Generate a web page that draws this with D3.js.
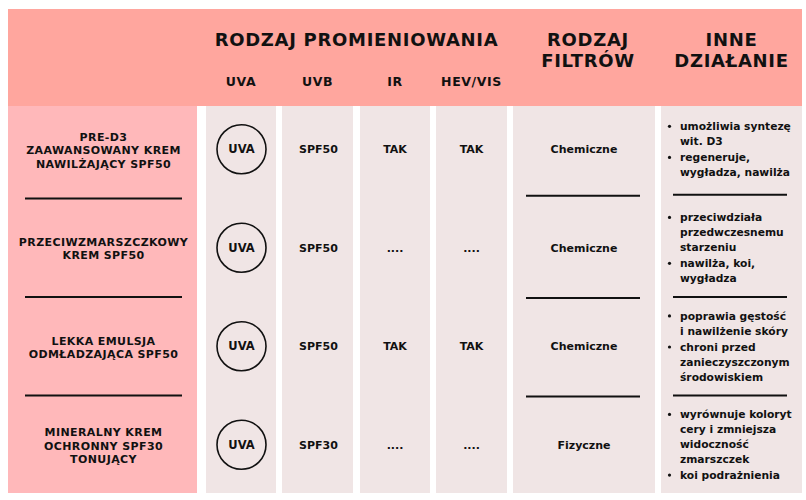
<!DOCTYPE html>
<html>
<head>
<meta charset="utf-8">
<script src="https://cdn.jsdelivr.net/npm/d3@7"></script>
<style>
  body { margin: 0; background: #fff; }
  svg text { font-family: "DejaVu Sans", sans-serif; font-weight: bold; fill: #111; }
</style>
</head>
<body>
<div class="canvas"></div>
<script>
// data
const products = [
  ['PRE-D3', 'ZAAWANSOWANY KREM', 'NAWILŻAJĄCY SPF50'],
  ['PRZECIWZMARSZCZKOWY', 'KREM SPF50'],
  ['LEKKA EMULSJA', 'ODMŁADZAJĄCA SPF50'],
  ['MINERALNY KREM', 'OCHRONNY SPF30', 'TONUJĄCY']
];
const radiation = ['UVA', 'UVB', 'IR', 'HEV/VIS'];
const uva = ['UVA', 'UVA', 'UVA', 'UVA'];
const uvb = ['SPF50', 'SPF50', 'SPF50', 'SPF30'];
const ir = ['TAK', '....', 'TAK', '....'];
const hev = ['TAK', '....', 'TAK', '....'];
const filters = ['Chemiczne', 'Chemiczne', 'Chemiczne', 'Fizyczne'];
const effects = [
  [['umożliwia syntezę', 'wit. D3'], ['regeneruje,', 'wygładza, nawilża']],
  [['przeciwdziała', 'przedwczesnemu', 'starzeniu'], ['nawilża, koi,', 'wygładza']],
  [['poprawia gęstość', 'i nawilżenie skóry'], ['chroni przed', 'zanieczyszczonym', 'środowiskiem']],
  [['wyrównuje koloryt', 'cery i zmniejsza', 'widoczność', 'zmarszczek'], ['koi podrażnienia']]
];

const dims = {width: 806, height: 500};
const svg = d3.select('.canvas')
  .append('svg')
  .attr('width', dims.width)
  .attr('height', dims.height);

// columns (x0, x1)
const cols = {
  name: [8, 197],
  uva: [206, 276],
  uvb: [282, 353],
  ir: [360, 430],
  hev: [436, 507],
  filt: [513, 655],
  inne: [661, 802]
};
const cx = c => (cols[c][0] + cols[c][1]) / 2;

const topY = 106, bottomY = 493;
const y = d3.scaleBand()
  .domain(d3.range(products.length))
  .range([101, 495]);
const rowC = i => y(i) + y.bandwidth() / 2;

// header band
svg.append('rect')
  .attr('x', 8).attr('y', 9).attr('width', 794).attr('height', topY - 9)
  .attr('fill', '#ffa69e');

// body columns
svg.append('rect')
  .attr('x', cols.name[0]).attr('y', topY)
  .attr('width', cols.name[1] - cols.name[0]).attr('height', bottomY - topY)
  .attr('fill', '#ffb8ba');

svg.selectAll('rect.cell')
  .data(['uva', 'uvb', 'ir', 'hev', 'filt', 'inne'])
  .enter().append('rect')
  .attr('class', 'cell')
  .attr('x', d => cols[d][0]).attr('y', topY)
  .attr('width', d => cols[d][1] - cols[d][0]).attr('height', bottomY - topY)
  .attr('fill', '#f0e5e5');

// header texts
const head = svg.append('g');
head.append('text')
  .attr('x', (cols.uva[0] + cols.hev[1]) / 2).attr('y', 45.5)
  .attr('text-anchor', 'middle').attr('font-size', 18)
  .attr('letter-spacing', 0.7)
  .text('RODZAJ PROMIENIOWANIA');

const twoLine = (x, lines) => {
  lines.forEach((l, i) => {
    head.append('text')
      .attr('x', x).attr('y', 45.5 + i * 21.5)
      .attr('text-anchor', 'middle').attr('font-size', 18)
      .attr('letter-spacing', 0.7)
      .text(l);
  });
};
twoLine(cx('filt') + 4, ['RODZAJ', 'FILTRÓW']);
twoLine(cx('inne'), ['INNE', 'DZIAŁANIE']);

head.selectAll('text.sub')
  .data(radiation)
  .enter().append('text')
  .attr('class', 'sub')
  .attr('x', (d, i) => cx(['uva', 'uvb', 'ir', 'hev'][i]))
  .attr('y', 86)
  .attr('text-anchor', 'middle').attr('font-size', 12.5)
  .attr('letter-spacing', 0.6)
  .text(d => d);

// product names
const names = svg.append('g');
products.forEach((lines, i) => {
  const c = rowC(i), lh = 13.3;
  lines.forEach((l, j) => {
    names.append('text')
      .attr('x', cx('name') + 1)
      .attr('y', c + (j - (lines.length - 1) / 2) * lh + 4)
      .attr('text-anchor', 'middle').attr('font-size', 11)
      .attr('letter-spacing', 0.4)
      .text(l);
  });
});

// separators in name column (band boundaries)
svg.selectAll('line.sepName')
  .data(d3.range(1, products.length))
  .enter().append('line')
  .attr('class', 'sepName')
  .attr('x1', 25).attr('x2', 182)
  .attr('y1', d => y(d) - 1).attr('y2', d => y(d) - 1)
  .attr('stroke', '#111').attr('stroke-width', 2);

// UVA circles
const uvaG = svg.selectAll('g.uva')
  .data(uva)
  .enter().append('g')
  .attr('class', 'uva')
  .attr('transform', (d, i) => `translate(${cx('uva') + 0.5},${rowC(i) - 1})`);
uvaG.append('circle')
  .attr('r', 24.5)
  .attr('fill', 'none').attr('stroke', '#111').attr('stroke-width', 1.6);
uvaG.append('text')
  .attr('y', 4.2).attr('text-anchor', 'middle').attr('font-size', 11.5)
  .text(d => d);

// simple value columns
const valueCol = (data, c, size, dx) => {
  svg.selectAll('text.v-' + c)
    .data(data)
    .enter().append('text')
    .attr('class', 'v-' + c)
    .attr('x', cx(c) + (dx || 0))
    .attr('y', (d, i) => rowC(i) + 0.36 * size - 1)
    .attr('text-anchor', 'middle').attr('font-size', size)
    .text(d => d);
};
valueCol(uvb, 'uvb', 11, 1);
valueCol(ir, 'ir', 11);
valueCol(hev, 'hev', 11);
valueCol(filters, 'filt', 11);

// effects bullet lists
const lh = 14.8, gap = 1.5;
const blocks = effects.map((bullets, i) => {
  const n = d3.sum(bullets, b => b.length);
  const h = (n - 1) * lh + (bullets.length - 1) * gap;
  const start = rowC(i) - h / 2 - 1;
  const items = [];
  let k = 0;
  bullets.forEach((b, bi) => {
    b.forEach((l, li) => {
      items.push({text: l, y: start + k * lh + bi * gap, bullet: li === 0});
      k++;
    });
  });
  return {items, first: start, last: start + h};
});

const eff = svg.append('g');
blocks.forEach(b => {
  b.items.forEach(it => {
    eff.append('text')
      .attr('x', 680).attr('y', it.y + 4)
      .attr('font-size', 10.7)
      .text(it.text);
    if (it.bullet) {
      eff.append('circle')
        .attr('cx', 669.5).attr('cy', it.y)
        .attr('r', 1.6).attr('fill', '#111');
    }
  });
});

// separators between effect blocks (midway between text blocks)
const mids = d3.range(1, blocks.length).map(i => (blocks[i - 1].last + blocks[i].first) / 2);
svg.selectAll('line.sepR')
  .data(mids)
  .enter().append('line')
  .attr('class', 'sepR')
  .attr('x1', 673).attr('x2', 787)
  .attr('y1', d => d).attr('y2', d => d)
  .attr('stroke', '#111').attr('stroke-width', 2);
svg.selectAll('line.sepF')
  .data(mids)
  .enter().append('line')
  .attr('class', 'sepF')
  .attr('x1', 526).attr('x2', 640)
  .attr('y1', d => d + 1).attr('y2', d => d + 1)
  .attr('stroke', '#111').attr('stroke-width', 2);
</script>
</body>
</html>
